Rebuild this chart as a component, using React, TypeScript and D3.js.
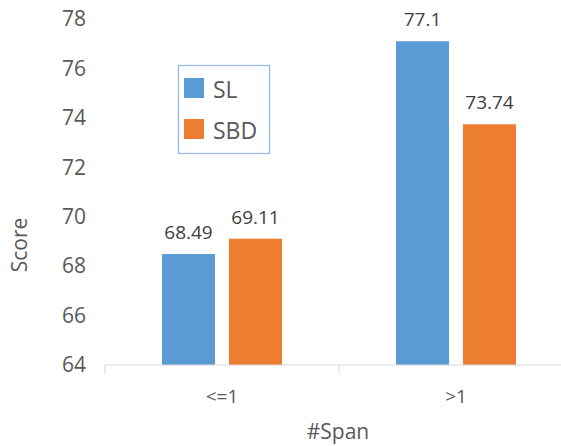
import * as d3 from "d3";

const categories = ["<=1", ">1"];
const series = ["SL", "SBD"];
const slValues = [68.49, 77.1];
const sbdValues = [69.11, 73.74];
const yTicks = [64, 66, 68, 70, 72, 74, 76, 78];
const colors = ["#5B9BD5", "#ED7D31"];

const W = 561;
const H = 446;
const font = "'Open Sans', 'Noto Sans', sans-serif";
const textColor = "#595959";

export default function App() {
  const x0 = d3.scaleBand<string>().domain(categories).range([105, 573]);
  const x1 = d3.scaleBand<string>().domain(series).range([-60, 60]).paddingInner(0.209);
  const y = d3.scaleLinear().domain([64, 78]).range([365, 19]);
  const values = [slValues, sbdValues];

  return (
    <svg
      width={W}
      height={H}
      style={{ position: "absolute", left: 0, top: 0 }}
      fontFamily={font}
    >
      <rect width={W} height={H} fill="#fff" />
      {yTicks.map((t) => (
        <text
          key={t}
          x={86}
          y={y(t)}
          dy="0.35em"
          textAnchor="end"
          fontSize={21}
          fill={textColor}
        >
          {t}
        </text>
      ))}
      {categories.map((c, i) => {
        const cx = x0(c)! + x0.bandwidth() / 2;
        return (
          <g key={c}>
            {series.map((s, j) => {
              const v = values[j][i];
              const bx = cx + x1(s)!;
              return (
                <g key={s}>
                  <rect
                    x={bx}
                    y={y(v)}
                    width={x1.bandwidth()}
                    height={y(64) - y(v)}
                    fill={colors[j]}
                  />
                  <text
                    x={bx + x1.bandwidth() / 2}
                    y={y(v) - 15}
                    textAnchor="middle"
                    fontSize={19}
                    fill="#404040"
                  >
                    {v}
                  </text>
                </g>
              );
            })}
            <text x={cx} y={403} textAnchor="middle" fontSize={19} fill={textColor}>
              {c}
            </text>
          </g>
        );
      })}
      <line x1={105} x2={573} y1={365} y2={365} stroke="#d9d9d9" strokeWidth={1.2} />
      {[105, 339].map((tx) => (
        <line key={tx} x1={tx} x2={tx} y1={365} y2={374} stroke="#d9d9d9" strokeWidth={1} />
      ))}
      <text
        transform={`translate(27,245) rotate(-90)`}
        textAnchor="middle"
        fontSize={21}
        fill={textColor}
      >
        Score
      </text>
      <text x={338} y={439} textAnchor="middle" fontSize={21} fill={textColor}>
        #Span
      </text>
      <rect x={178.5} y={65.5} width={91} height={88} fill="#fff" stroke="#8fb8e2" strokeWidth={1.2} />
      {series.map((s, j) => (
        <g key={s}>
          <rect x={184} y={78 + j * 41} width={20} height={20} fill={colors[j]} />
          <text x={213} y={98 + j * 41} fontSize={23} fill={textColor}>
            {s}
          </text>
        </g>
      ))}
    </svg>
  );
}
